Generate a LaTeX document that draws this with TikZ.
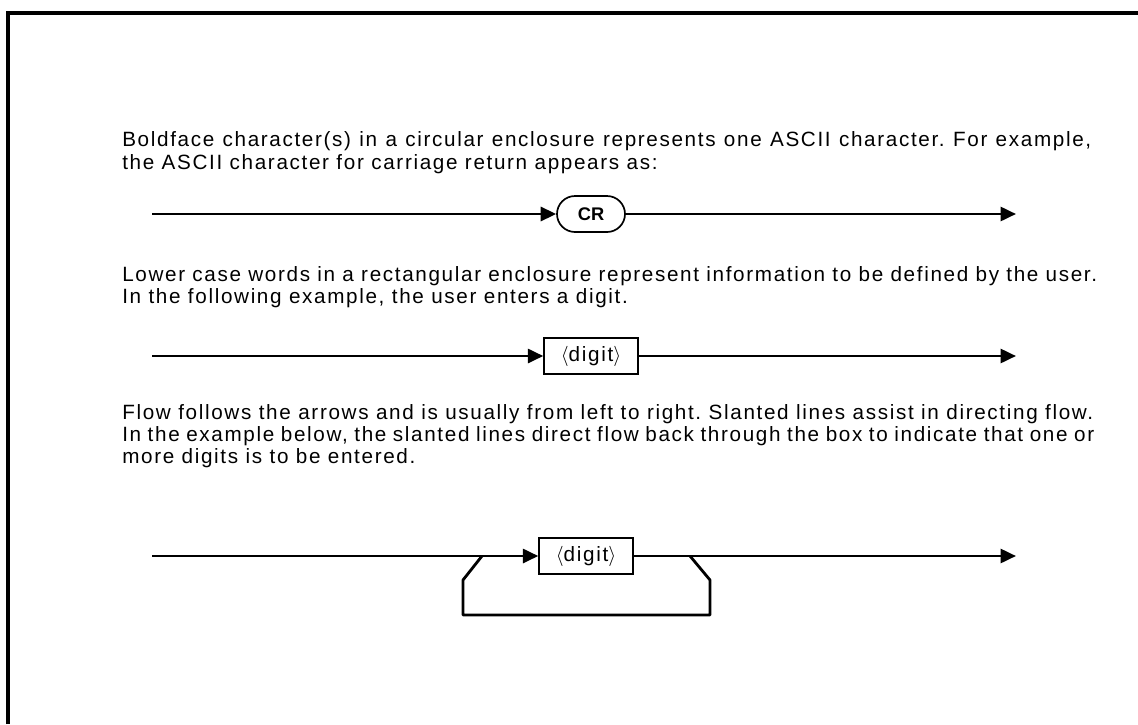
\documentclass[tikz,border=0pt]{standalone}
\usepackage{fontspec}
\setmainfont{Liberation Sans}[LetterSpace=8]
\newfontfamily\crfont{Liberation Sans}
\usetikzlibrary{arrows.meta}
\frenchspacing
\begin{document}
\begin{tikzpicture}[x=0.025cm, y=-0.025cm]
	\tikzstyle{para} = [anchor=base west, inner sep=0pt, font=\fontsize{14.7}{16}\selectfont\frenchspacing]
	\tikzstyle{ascii} = [draw, line width=1.2pt, rounded corners=0.45cm, minimum width=68*0.025cm, minimum height=36*0.025cm, inner sep=0pt, font=\fontsize{13}{15}\crfont\bfseries]
	\tikzstyle{user} = [draw, line width=1pt, minimum width=94*0.025cm, minimum height=36*0.025cm, inner sep=0pt, font=\fontsize{14.7}{16}\selectfont]
	\tikzstyle{edge} = [line width=2pt, -{Triangle[length=11pt, width=10pt]}]
	\tikzstyle{backloop} = [line width=2pt, line join=round]
\def\start{152}
\def\stop{1016}
\def\textx{122}
\useasboundingbox (0,0) rectangle (1138,724);

% frame
\draw[line width=2.2pt] (8,724) -- (8,13) -- (1138,13);

% full text lines
\foreach \name/\y/\w/\txt in {
	ascii_a/146/969/{Boldface character(s) in a circular enclosure represents one ASCII character. For example,},
	user_a/281/975/{Lower case words in a rectangular enclosure represent information to be defined by the user.},
	flow_a/419/971/{Flow follows the arrows and is usually from left to right. Slanted lines assist in directing flow.},
	flow_b/441/972/{In the example below, the slanted lines direct flow back through the box to indicate that one or}}
	\node[para] (\name) at (\textx,\y) {\hbox to \dimexpr 0.025cm*\w\relax{\txt}};

% last lines
\foreach \name/\y/\txt in {
	ascii_b/169/{the ASCII character for carriage return appears as:},
	user_b/303/{In the following example, the user enters a digit.},
	flow_c/463/{more digits is to be entered.}}
	\node[para] (\name) at (\textx,\y) {\txt};

% carriage return
\node[ascii] (cr) at (591,214) {CR};
\coordinate (cr_in) at (\start,214);
\coordinate (cr_out) at (\stop,214);
\draw[edge] (cr_in) -- (cr);
\draw[edge] (cr) -- (cr_out);

% one digit
\node[user] (digit) at (591,356) {$\langle$digit$\rangle$};
\coordinate (digit_in) at (\start,356);
\coordinate (digit_out) at (\stop,356);
\draw[edge] (digit_in) -- (digit);
\draw[edge] (digit) -- (digit_out);

% one or more digits
\node[user] (digits) at (586,556) {$\langle$digit$\rangle$};
\coordinate (digits_in) at (\start,556);
\coordinate (digits_out) at (\stop,556);
\draw[edge] (digits_in) -- (digits);
\draw[edge] (digits) -- (digits_out);

\coordinate (back_from) at (690,556);
\coordinate (back_to) at (482,556);
\draw[backloop] (back_from) -- ++(20,24) -- ++(0,35) -- ++(-247,0) -- ++(0,-35) -- (back_to);
\end{tikzpicture}
\end{document}
